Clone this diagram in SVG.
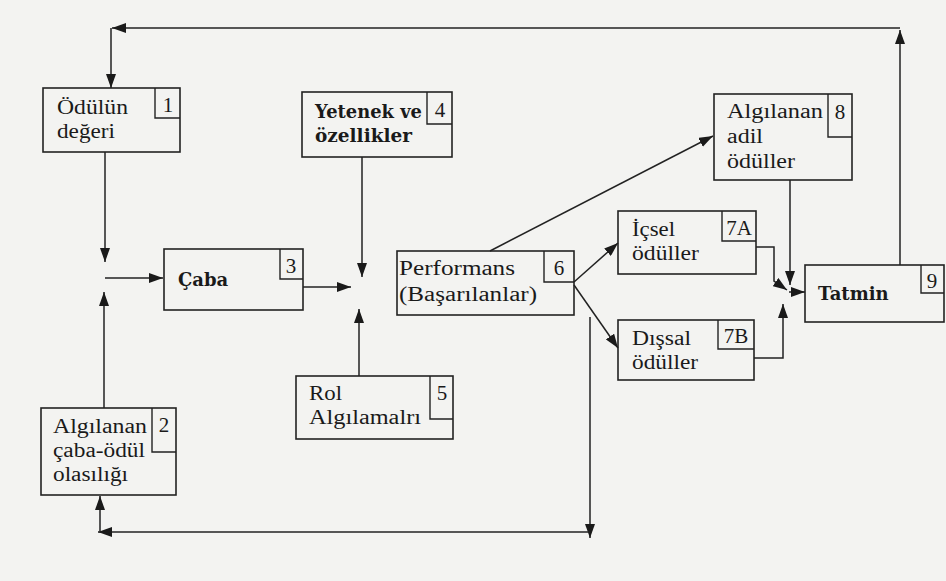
<svg xmlns="http://www.w3.org/2000/svg" width="946" height="581" viewBox="0 0 946 581">
<defs>
<marker id="ah" viewBox="0 0 14 10" refX="14" refY="5" markerWidth="14" markerHeight="10" markerUnits="userSpaceOnUse" orient="auto">
<path d="M0 0 L14 5 L0 10 z" fill="#1a1a1a"/>
</marker>
</defs>
<style>
.box{fill:none;stroke:#222;stroke-width:1.6}
.num{fill:none;stroke:#222;stroke-width:1.4}
.t{font-family:"Liberation Serif","DejaVu Serif",serif;font-size:20px;fill:#1a1a1a}
.b{font-family:"DejaVu Serif","Liberation Serif",serif;font-size:18px;font-weight:bold;fill:#1a1a1a}
.n{font-family:"Liberation Serif","DejaVu Serif",serif;font-size:21px;fill:#1a1a1a;text-anchor:middle}
.c{fill:none;stroke:#222;stroke-width:1.5}
.ca{fill:none;stroke:#222;stroke-width:1.5;marker-end:url(#ah)}
</style>
<rect width="946" height="581" fill="#f3f3f1"/>

<g id="connectors">
<path class="ca" d="M900 265 V30"/>
<path class="ca" d="M900 28 H112"/>
<path class="ca" d="M111 28 V88"/>
<path class="ca" d="M105 152 V262"/>
<path class="ca" d="M104 408 V292"/>
<path class="ca" d="M105 278 H163"/>
<path class="ca" d="M303 287 H351"/>
<path class="ca" d="M362 157 V277"/>
<path class="ca" d="M359 376 V309"/>
<path class="ca" d="M490 251 L713 136"/>
<path class="ca" d="M574 282 L618 243"/>
<path class="ca" d="M574 285 L618 348"/>
<path class="ca" d="M756 247 H774 V281 L787 290"/>
<path class="ca" d="M790 180 V285"/>
<path class="ca" d="M754 358 H783 V304"/>
<path class="ca" d="M789 292 H805"/>
<path class="ca" d="M590 317 V538"/>
<path class="ca" d="M590 532 H98"/>
<path class="ca" d="M100 531 V496"/>
</g>

<g id="n1">
<rect class="box" x="43" y="88" width="137" height="64"/>
<path class="num" d="M155 88 V118 H180"/>
<text class="n" x="168" y="112">1</text>
<text class="t" x="57" y="114" textLength="71" lengthAdjust="spacingAndGlyphs">Ödülün</text>
<text class="t" x="57" y="138" textLength="58" lengthAdjust="spacingAndGlyphs">değeri</text>
</g>

<g id="n2">
<rect class="box" x="41" y="408" width="135" height="87"/>
<path class="num" d="M152 408 V452 H176"/>
<text class="n" x="164" y="432">2</text>
<text class="t" x="53" y="433" textLength="94" lengthAdjust="spacingAndGlyphs">Algılanan</text>
<text class="t" x="53" y="457" textLength="92" lengthAdjust="spacingAndGlyphs">çaba-ödül</text>
<text class="t" x="53" y="481" textLength="75" lengthAdjust="spacingAndGlyphs">olasılığı</text>
</g>

<g id="n3">
<rect class="box" x="164" y="249" width="139" height="61"/>
<path class="num" d="M280 249 V279 H303"/>
<text class="n" x="291" y="273">3</text>
<text class="b" x="178" y="286">Çaba</text>
</g>

<g id="n4">
<rect class="box" x="302" y="92" width="150" height="65"/>
<path class="num" d="M427 92 V124 H452"/>
<text class="n" x="440" y="117">4</text>
<text class="b" x="315" y="118" textLength="107" lengthAdjust="spacingAndGlyphs">Yetenek ve</text>
<text class="b" x="315" y="142" textLength="97" lengthAdjust="spacingAndGlyphs">özellikler</text>
</g>

<g id="n5">
<rect class="box" x="296" y="376" width="157" height="63"/>
<path class="num" d="M430 376 V419 H453"/>
<text class="n" x="442" y="400">5</text>
<text class="t" x="309" y="400" textLength="33" lengthAdjust="spacingAndGlyphs">Rol</text>
<text class="t" x="309" y="424" textLength="112" lengthAdjust="spacingAndGlyphs">Algılamalrı</text>
</g>

<g id="n6">
<rect class="box" x="397" y="251" width="177" height="64"/>
<path class="num" d="M544 251 V282 H574"/>
<text class="n" x="559" y="275">6</text>
<text class="t" x="399" y="275" textLength="116" lengthAdjust="spacingAndGlyphs">Performans</text>
<text class="t" x="399" y="301" textLength="138" lengthAdjust="spacingAndGlyphs">(Başarılanlar)</text>
</g>

<g id="n7a">
<rect class="box" x="618" y="211" width="138" height="63"/>
<path class="num" d="M722 211 V241 H756"/>
<text class="n" x="739" y="235">7A</text>
<text class="t" x="632" y="236" textLength="43" lengthAdjust="spacingAndGlyphs">İçsel</text>
<text class="t" x="632" y="260" textLength="67" lengthAdjust="spacingAndGlyphs">ödüller</text>
</g>

<g id="n7b">
<rect class="box" x="618" y="320" width="136" height="60"/>
<path class="num" d="M718 320 V349 H754"/>
<text class="n" x="736" y="343">7B</text>
<text class="t" x="632" y="345" textLength="59" lengthAdjust="spacingAndGlyphs">Dışsal</text>
<text class="t" x="632" y="369" textLength="66" lengthAdjust="spacingAndGlyphs">ödüller</text>
</g>

<g id="n8">
<rect class="box" x="714" y="94" width="138" height="86"/>
<path class="num" d="M828 94 V137 H852"/>
<text class="n" x="840" y="119">8</text>
<text class="t" x="727" y="118" textLength="96" lengthAdjust="spacingAndGlyphs">Algılanan</text>
<text class="t" x="727" y="143" textLength="36" lengthAdjust="spacingAndGlyphs">adil</text>
<text class="t" x="727" y="168" textLength="68" lengthAdjust="spacingAndGlyphs">ödüller</text>
</g>

<g id="n9">
<rect class="box" x="805" y="265" width="139" height="57"/>
<path class="num" d="M921 265 V293 H944"/>
<text class="n" x="932" y="288">9</text>
<text class="b" x="818" y="300">Tatmin</text>
</g>
</svg>
